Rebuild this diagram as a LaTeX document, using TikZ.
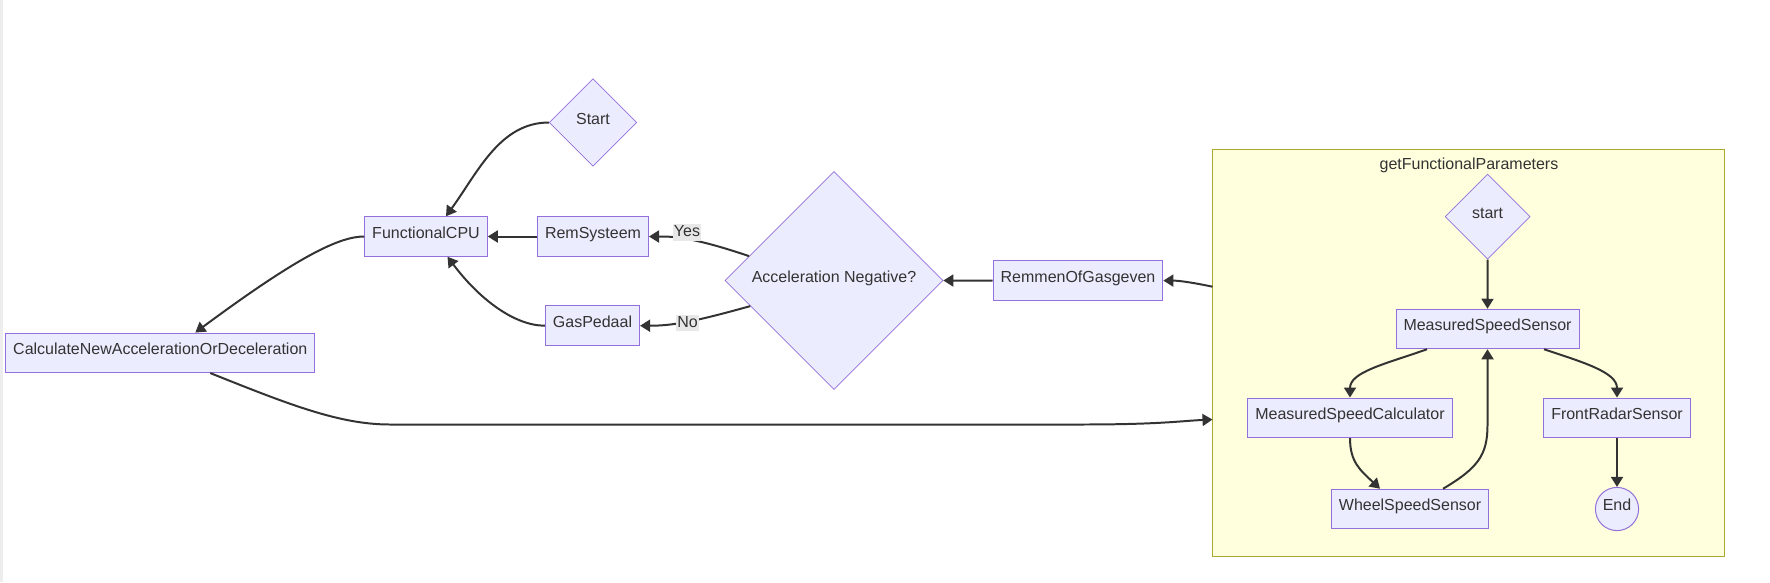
\documentclass[tikz,border=0pt]{standalone}
\usepackage{fontspec}
\setmainfont{Liberation Sans}
\usepackage{xcolor}
\definecolor{mmlav}{HTML}{ECECFF}
\definecolor{mmpurple}{HTML}{9370DB}
\definecolor{mmdark}{HTML}{333333}
\definecolor{mmlabel}{HTML}{E8E8E8}
\definecolor{sgfill}{HTML}{FFFFDE}
\definecolor{sgline}{HTML}{AAAA33}
\usetikzlibrary{arrows.meta,positioning,shapes.geometric,calc}

\begin{document}
\begin{tikzpicture}[x=0.02cm,y=-0.02cm,
  txt/.style={text=mmdark,font=\fontsize{9.1}{11}\selectfont,text height=6.5pt,text depth=4.3pt},
  box/.style={txt,draw=mmpurple,line width=0.57pt,fill=mmlav,minimum height=0.79cm,inner xsep=0.15cm},
  dia/.style={txt,draw=mmpurple,line width=0.4pt,fill=mmlav,diamond,aspect=1,inner sep=0pt},
  lnk/.style={-{Triangle[length=5.7pt,width=6.8pt]},line width=1.13pt,mmdark},
  lbl/.style={txt,fill=mmlabel,inner xsep=0.5pt,inner ysep=0.3pt,text height=6.7pt,text depth=1.9pt}]
  \useasboundingbox (0,0) rectangle (1770,582);
  \fill[black!7] (0,0) rectangle (3,582);
  % main flow
  \node[dia,minimum size=1.75cm] (st) at (593,122.5) {Start};
  \node[box] (cpu) at (426,236.5) {FunctionalCPU};
  \node[box] (rem) at (593,236.5) {RemSysteem};
  \node[box] (gas) at (592.5,325.7) {GasPedaal};
  \node[box] (calc) at (160.3,352.8) {CalculateNewAccelerationOrDeceleration};
  \node[dia,minimum size=4.36cm] (acc) at (834,280.5) {Acceleration Negative?};
  \node[box] (rog) at (1078,280.6) {RemmenOfGasgeven};
  % subgraph
  \node[draw=sgline,fill=sgfill,line width=0.57pt,minimum width=10.25cm,minimum height=8.15cm,inner sep=0pt] (gfp) at (1468.75,352.75) {};
  \node[txt] (gfpt) at (1469,167.4) {getFunctionalParameters};
  \coordinate (gin) at (1212.5,419.5);
  \coordinate (gout) at (1212.5,286.7);
  \node[dia,minimum size=1.7cm] (s0) at (1487.6,216.7) {start};
  \node[box] (mss) at (1487.5,329) {MeasuredSpeedSensor};
  \node[box] (msc) at (1350,417.8) {MeasuredSpeedCalculator};
  \node[box] (frs) at (1617,417.8) {FrontRadarSensor};
  \node[box] (wss) at (1410,509) {WheelSpeedSensor};
  \node[txt,circle,draw=mmpurple,line width=0.57pt,fill=mmlav,minimum size=0.864cm,inner sep=0pt] (end) at (1617,509) {End};
  % edges
  \draw[lnk] (st.west) .. controls (500,122.5) and (478,172) .. ([xshift=0.4cm]cpu.north);
  \draw[lnk] (rem.west) -- (cpu.east);
  \draw[lnk] (gas.west) .. controls (515,325.7) and (480,300) .. ([xshift=0.43cm]cpu.south);
  \draw[lnk] (cpu.west) .. controls (340,236.5) and (300,255) .. ([xshift=0.7cm]calc.north);
  \draw[lnk] ([xshift=1cm]calc.south) .. controls (290,405) and (340,424.5) .. (390,424.5) -- (1080,424.5) .. controls (1160,424.5) and (1180,421) .. (gin);
  \draw[lnk] (gout) .. controls (1195,283) and (1180,280.6) .. (rog.east);
  \draw[lnk] (rog.west) -- (acc.east);
  \draw[lnk] (acc.164) .. controls (690,236) and (670,236.5) .. (rem.east) node[lbl,pos=0.5,xshift=0.044cm,yshift=0.125cm] {Yes};
  \draw[lnk] (acc.197) .. controls (690,323) and (670,325.7) .. (gas.east) node[lbl,pos=0.5,xshift=0.074cm,yshift=-0.014cm] {No};
  \draw[lnk] (s0.south) -- (mss.north);
  \draw[lnk] ([xshift=-1.21cm]mss.south) .. controls (1385,364) and (1350,372) .. (msc.north);
  \draw[lnk] ([xshift=1.13cm]mss.south) .. controls (1582,362) and (1617,372) .. (frs.north);
  \draw[lnk] (msc.south) .. controls (1350,462) and (1360,470) .. ([xshift=-0.6cm]wss.north);
  \draw[lnk] ([xshift=0.66cm]wss.north) .. controls (1478,468) and (1487.5,455) .. (1487.5,425) -- (mss.south);
  \draw[lnk] (frs.south) -- (end.north);
\end{tikzpicture}
\end{document}
